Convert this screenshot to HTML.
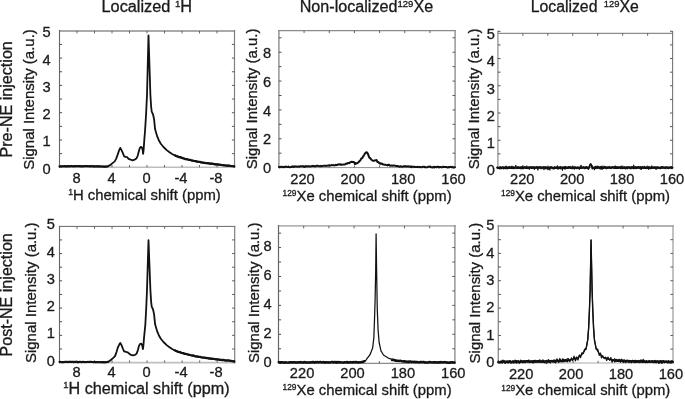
<!DOCTYPE html>
<html><head><meta charset="utf-8"><title>Spectra</title>
<style>html,body{margin:0;padding:0;background:#fff;}svg{display:block;will-change:transform;font-family:"Liberation Sans",sans-serif;}</style>
</head><body>
<svg width="685" height="399" viewBox="0 0 685 399"  fill="#1a1a1a" stroke="#1a1a1a" stroke-width="0">
<rect width="685" height="399" fill="#fff"/>
<line x1="58.95" y1="30.95" x2="235.10" y2="30.95" stroke="#aaaaaa" stroke-width="1.9"/>
<line x1="59.50" y1="167.30" x2="235.10" y2="167.30" stroke="#bdbdbd" stroke-width="1.4"/>
<line x1="234.50" y1="30.00" x2="234.50" y2="168.00" stroke="#808080" stroke-width="1.2"/>
<line x1="59.50" y1="30.00" x2="59.50" y2="168.00" stroke="#666" stroke-width="1.1"/>
<line x1="77.00" y1="167.30" x2="77.00" y2="165.10" stroke="#555" stroke-width="0.9"/>
<line x1="77.00" y1="30.95" x2="77.00" y2="33.45" stroke="#555" stroke-width="0.9"/>
<line x1="94.50" y1="167.30" x2="94.50" y2="165.10" stroke="#555" stroke-width="0.9"/>
<line x1="94.50" y1="30.95" x2="94.50" y2="33.45" stroke="#555" stroke-width="0.9"/>
<line x1="112.00" y1="167.30" x2="112.00" y2="165.10" stroke="#555" stroke-width="0.9"/>
<line x1="112.00" y1="30.95" x2="112.00" y2="33.45" stroke="#555" stroke-width="0.9"/>
<line x1="129.50" y1="167.30" x2="129.50" y2="165.10" stroke="#555" stroke-width="0.9"/>
<line x1="129.50" y1="30.95" x2="129.50" y2="33.45" stroke="#555" stroke-width="0.9"/>
<line x1="147.00" y1="167.30" x2="147.00" y2="165.10" stroke="#555" stroke-width="0.9"/>
<line x1="147.00" y1="30.95" x2="147.00" y2="33.45" stroke="#555" stroke-width="0.9"/>
<line x1="164.50" y1="167.30" x2="164.50" y2="165.10" stroke="#555" stroke-width="0.9"/>
<line x1="164.50" y1="30.95" x2="164.50" y2="33.45" stroke="#555" stroke-width="0.9"/>
<line x1="182.00" y1="167.30" x2="182.00" y2="165.10" stroke="#555" stroke-width="0.9"/>
<line x1="182.00" y1="30.95" x2="182.00" y2="33.45" stroke="#555" stroke-width="0.9"/>
<line x1="199.50" y1="167.30" x2="199.50" y2="165.10" stroke="#555" stroke-width="0.9"/>
<line x1="199.50" y1="30.95" x2="199.50" y2="33.45" stroke="#555" stroke-width="0.9"/>
<line x1="217.00" y1="167.30" x2="217.00" y2="165.10" stroke="#555" stroke-width="0.9"/>
<line x1="217.00" y1="30.95" x2="217.00" y2="33.45" stroke="#555" stroke-width="0.9"/>
<line x1="59.50" y1="153.65" x2="62.10" y2="153.65" stroke="#505050" stroke-width="1.0"/>
<line x1="234.50" y1="153.65" x2="231.90" y2="153.65" stroke="#5a5a5a" stroke-width="1.0"/>
<line x1="59.50" y1="140.00" x2="62.10" y2="140.00" stroke="#505050" stroke-width="1.0"/>
<line x1="234.50" y1="140.00" x2="231.90" y2="140.00" stroke="#5a5a5a" stroke-width="1.0"/>
<line x1="59.50" y1="126.35" x2="62.10" y2="126.35" stroke="#505050" stroke-width="1.0"/>
<line x1="234.50" y1="126.35" x2="231.90" y2="126.35" stroke="#5a5a5a" stroke-width="1.0"/>
<line x1="59.50" y1="112.70" x2="62.10" y2="112.70" stroke="#505050" stroke-width="1.0"/>
<line x1="234.50" y1="112.70" x2="231.90" y2="112.70" stroke="#5a5a5a" stroke-width="1.0"/>
<line x1="59.50" y1="99.05" x2="62.10" y2="99.05" stroke="#505050" stroke-width="1.0"/>
<line x1="234.50" y1="99.05" x2="231.90" y2="99.05" stroke="#5a5a5a" stroke-width="1.0"/>
<line x1="59.50" y1="85.40" x2="62.10" y2="85.40" stroke="#505050" stroke-width="1.0"/>
<line x1="234.50" y1="85.40" x2="231.90" y2="85.40" stroke="#5a5a5a" stroke-width="1.0"/>
<line x1="59.50" y1="71.75" x2="62.10" y2="71.75" stroke="#505050" stroke-width="1.0"/>
<line x1="234.50" y1="71.75" x2="231.90" y2="71.75" stroke="#5a5a5a" stroke-width="1.0"/>
<line x1="59.50" y1="58.10" x2="62.10" y2="58.10" stroke="#505050" stroke-width="1.0"/>
<line x1="234.50" y1="58.10" x2="231.90" y2="58.10" stroke="#5a5a5a" stroke-width="1.0"/>
<line x1="59.50" y1="44.45" x2="62.10" y2="44.45" stroke="#505050" stroke-width="1.0"/>
<line x1="234.50" y1="44.45" x2="231.90" y2="44.45" stroke="#5a5a5a" stroke-width="1.0"/>
<polyline points="59.60,166.30 80.00,166.20 100.00,166.40 105.00,166.60 108.00,166.30 110.50,164.90 112.50,163.10 114.50,161.60 116.00,159.10 117.50,155.10 119.00,150.60 120.30,147.90 121.50,150.10 122.90,153.10 124.10,156.30 125.60,156.90 127.10,157.10 128.60,158.90 130.60,159.70 132.60,160.30 134.60,159.70 136.30,158.60 137.60,156.10 138.80,151.60 139.80,148.10 140.80,146.90 141.80,147.30 142.60,149.60 143.10,153.90 143.60,150.10 144.30,140.00 145.10,130.00 146.10,113.80 147.00,95.00 147.60,71.20 148.12,50.38 148.50,35.50 148.97,50.38 149.64,71.20 150.40,95.00 151.10,106.30 151.70,111.50 152.30,113.00 153.00,114.20 153.60,117.00 154.10,119.40 155.00,128.50 155.60,131.00 157.30,136.70 158.80,140.20 160.80,143.70 163.50,147.00 166.70,150.10 169.50,152.30 172.50,154.20 175.30,155.60 178.40,156.80 184.20,158.60 190.00,160.00 195.90,161.30 201.70,162.40 207.60,163.20 213.40,164.00 219.30,164.70 225.10,165.30 230.90,165.80 234.30,166.40" fill="none" stroke="#111" stroke-width="1.8" stroke-linejoin="round" stroke-linecap="round"/>
<polyline points="175.30,155.47 176.33,156.02 177.37,156.33 178.40,156.85 179.37,157.16 180.33,157.18 181.30,157.46 182.27,158.17 183.23,158.18 184.20,158.47 185.17,159.08 186.13,159.05 187.10,159.47 188.07,159.52 189.03,159.84 190.00,159.83 190.98,160.28 191.97,160.62 192.95,160.66 193.93,160.99 194.92,161.17 195.90,161.08 196.87,161.61 197.83,161.71 198.80,161.75 199.77,161.80 200.73,162.40 201.70,162.39 202.68,162.64 203.67,162.86 204.65,162.91 205.63,163.14 206.62,163.01 207.60,163.35 208.57,163.31 209.53,163.68 210.50,163.79 211.47,163.53 212.43,163.68 213.40,163.86 214.38,164.35 215.37,164.20 216.35,164.41 217.33,164.37 218.32,164.59 219.30,164.64 220.27,164.73 221.23,164.94 222.20,165.04 223.17,165.30 224.13,165.29 225.10,165.51 226.07,165.56 227.03,165.71 228.00,165.64 228.97,165.46 229.93,165.90 230.90,166.03 232.03,166.20 233.17,166.23 234.30,166.40" fill="none" stroke="#111" stroke-width="2.2" stroke-linejoin="round" stroke-linecap="round"/>
<polyline points="59.60,166.39 60.62,166.18 61.64,166.42 62.66,166.31 63.68,166.19 64.70,166.10 65.72,166.41 66.74,166.46 67.76,166.10 68.78,166.38 69.80,166.21 70.82,166.11 71.84,166.16 72.86,166.34 73.88,166.38 74.90,166.04 75.92,166.27 76.94,166.03 77.96,166.30 78.98,166.14 80.00,166.35 81.00,166.40 82.00,166.22 83.00,166.43 84.00,166.16 85.00,166.08 86.00,166.30 87.00,166.08 88.00,166.16 89.00,166.25 90.00,166.34 91.00,166.17 92.00,166.14 93.00,166.48 94.00,166.27 95.00,166.53 96.00,166.52 97.00,166.32 98.00,166.36 99.00,166.40 100.00,166.46 101.00,166.48 102.00,166.50 103.00,166.57 104.00,166.74 105.00,166.60 106.00,166.47 107.00,166.49 108.00,166.30" fill="none" stroke="#111" stroke-width="2.1" stroke-linejoin="round" stroke-linecap="round"/>
<text stroke-width="0.3" x="34.50" y="169.80" font-size="14.67" text-anchor="start" transform="rotate(-90 34.50 169.80)" textLength="140.6" lengthAdjust="spacingAndGlyphs">Signal Intensity (a.u.)</text>
<text stroke-width="0.3" x="50.60" y="173.75" font-size="14.67" text-anchor="end" >0</text>
<text stroke-width="0.3" x="50.60" y="146.45" font-size="14.67" text-anchor="end" >1</text>
<text stroke-width="0.3" x="50.60" y="119.15" font-size="14.67" text-anchor="end" >2</text>
<text stroke-width="0.3" x="50.60" y="91.85" font-size="14.67" text-anchor="end" >3</text>
<text stroke-width="0.3" x="50.60" y="64.55" font-size="14.67" text-anchor="end" >4</text>
<text stroke-width="0.3" x="50.60" y="37.25" font-size="14.67" text-anchor="end" >5</text>
<text stroke-width="0.3" x="76.60" y="182.80" font-size="14.67" text-anchor="middle" >8</text>
<text stroke-width="0.3" x="111.60" y="182.80" font-size="14.67" text-anchor="middle" >4</text>
<text stroke-width="0.3" x="146.60" y="182.80" font-size="14.67" text-anchor="middle" >0</text>
<text stroke-width="0.3" x="180.90" y="182.80" font-size="14.67" text-anchor="middle" >-4</text>
<text stroke-width="0.3" x="215.90" y="182.80" font-size="14.67" text-anchor="middle" >-8</text>
<text stroke-width="0.3" x="68.20" y="199.80" font-size="14.67" text-anchor="start" textLength="152.6" lengthAdjust="spacingAndGlyphs"><tspan font-size="8.51" dy="-4.84">1</tspan><tspan dy="4.84">H chemical shift (ppm)</tspan></text>
<line x1="58.95" y1="226.40" x2="235.30" y2="226.40" stroke="#666" stroke-width="1.0"/>
<line x1="59.50" y1="362.60" x2="235.30" y2="362.60" stroke="#c0c0c0" stroke-width="1.6"/>
<line x1="234.70" y1="225.90" x2="234.70" y2="363.40" stroke="#808080" stroke-width="1.2"/>
<line x1="59.50" y1="225.90" x2="59.50" y2="363.40" stroke="#666" stroke-width="1.1"/>
<line x1="77.02" y1="362.60" x2="77.02" y2="360.40" stroke="#555" stroke-width="0.9"/>
<line x1="77.02" y1="226.40" x2="77.02" y2="228.90" stroke="#555" stroke-width="0.9"/>
<line x1="94.54" y1="362.60" x2="94.54" y2="360.40" stroke="#555" stroke-width="0.9"/>
<line x1="94.54" y1="226.40" x2="94.54" y2="228.90" stroke="#555" stroke-width="0.9"/>
<line x1="112.06" y1="362.60" x2="112.06" y2="360.40" stroke="#555" stroke-width="0.9"/>
<line x1="112.06" y1="226.40" x2="112.06" y2="228.90" stroke="#555" stroke-width="0.9"/>
<line x1="129.58" y1="362.60" x2="129.58" y2="360.40" stroke="#555" stroke-width="0.9"/>
<line x1="129.58" y1="226.40" x2="129.58" y2="228.90" stroke="#555" stroke-width="0.9"/>
<line x1="147.10" y1="362.60" x2="147.10" y2="360.40" stroke="#555" stroke-width="0.9"/>
<line x1="147.10" y1="226.40" x2="147.10" y2="228.90" stroke="#555" stroke-width="0.9"/>
<line x1="164.62" y1="362.60" x2="164.62" y2="360.40" stroke="#555" stroke-width="0.9"/>
<line x1="164.62" y1="226.40" x2="164.62" y2="228.90" stroke="#555" stroke-width="0.9"/>
<line x1="182.14" y1="362.60" x2="182.14" y2="360.40" stroke="#555" stroke-width="0.9"/>
<line x1="182.14" y1="226.40" x2="182.14" y2="228.90" stroke="#555" stroke-width="0.9"/>
<line x1="199.66" y1="362.60" x2="199.66" y2="360.40" stroke="#555" stroke-width="0.9"/>
<line x1="199.66" y1="226.40" x2="199.66" y2="228.90" stroke="#555" stroke-width="0.9"/>
<line x1="217.18" y1="362.60" x2="217.18" y2="360.40" stroke="#555" stroke-width="0.9"/>
<line x1="217.18" y1="226.40" x2="217.18" y2="228.90" stroke="#555" stroke-width="0.9"/>
<line x1="59.50" y1="348.97" x2="62.10" y2="348.97" stroke="#505050" stroke-width="1.0"/>
<line x1="234.70" y1="348.97" x2="232.10" y2="348.97" stroke="#5a5a5a" stroke-width="1.0"/>
<line x1="59.50" y1="335.34" x2="62.10" y2="335.34" stroke="#505050" stroke-width="1.0"/>
<line x1="234.70" y1="335.34" x2="232.10" y2="335.34" stroke="#5a5a5a" stroke-width="1.0"/>
<line x1="59.50" y1="321.71" x2="62.10" y2="321.71" stroke="#505050" stroke-width="1.0"/>
<line x1="234.70" y1="321.71" x2="232.10" y2="321.71" stroke="#5a5a5a" stroke-width="1.0"/>
<line x1="59.50" y1="308.08" x2="62.10" y2="308.08" stroke="#505050" stroke-width="1.0"/>
<line x1="234.70" y1="308.08" x2="232.10" y2="308.08" stroke="#5a5a5a" stroke-width="1.0"/>
<line x1="59.50" y1="294.45" x2="62.10" y2="294.45" stroke="#505050" stroke-width="1.0"/>
<line x1="234.70" y1="294.45" x2="232.10" y2="294.45" stroke="#5a5a5a" stroke-width="1.0"/>
<line x1="59.50" y1="280.82" x2="62.10" y2="280.82" stroke="#505050" stroke-width="1.0"/>
<line x1="234.70" y1="280.82" x2="232.10" y2="280.82" stroke="#5a5a5a" stroke-width="1.0"/>
<line x1="59.50" y1="267.19" x2="62.10" y2="267.19" stroke="#505050" stroke-width="1.0"/>
<line x1="234.70" y1="267.19" x2="232.10" y2="267.19" stroke="#5a5a5a" stroke-width="1.0"/>
<line x1="59.50" y1="253.56" x2="62.10" y2="253.56" stroke="#505050" stroke-width="1.0"/>
<line x1="234.70" y1="253.56" x2="232.10" y2="253.56" stroke="#5a5a5a" stroke-width="1.0"/>
<line x1="59.50" y1="239.93" x2="62.10" y2="239.93" stroke="#505050" stroke-width="1.0"/>
<line x1="234.70" y1="239.93" x2="232.10" y2="239.93" stroke="#5a5a5a" stroke-width="1.0"/>
<polyline points="59.60,362.00 80.00,361.90 100.00,362.10 105.00,362.30 108.00,361.90 110.50,360.30 113.00,358.10 115.00,356.10 116.50,352.10 118.00,347.10 119.50,344.10 120.30,342.90 121.50,345.10 122.90,348.60 124.10,351.30 126.10,351.90 127.60,352.30 129.10,353.60 130.90,354.90 133.10,355.30 135.10,354.90 136.60,353.60 137.90,350.10 139.10,345.60 140.10,343.90 141.30,343.70 142.30,345.60 142.90,349.10 143.40,345.60 144.10,337.00 144.90,329.00 145.30,325.00 146.20,308.80 147.00,290.00 147.60,270.08 148.12,252.65 148.50,240.20 148.97,252.65 149.64,270.08 150.40,290.00 151.10,301.30 151.70,306.50 152.30,308.00 153.00,309.20 153.60,312.00 154.10,314.40 155.00,323.50 155.60,326.00 157.30,331.70 158.80,335.20 160.80,338.70 163.50,342.00 166.70,345.10 169.50,347.30 172.50,349.20 175.30,350.60 178.40,351.80 184.20,353.60 190.00,355.00 195.90,356.30 201.70,357.40 207.60,358.20 213.40,359.00 219.30,359.70 225.10,360.30 230.90,360.80 234.30,361.40" fill="none" stroke="#111" stroke-width="1.8" stroke-linejoin="round" stroke-linecap="round"/>
<polyline points="175.30,350.47 176.33,350.90 177.37,351.64 178.40,351.81 179.37,352.12 180.33,352.16 181.30,352.66 182.27,353.04 183.23,353.06 184.20,353.66 185.17,353.90 186.13,353.85 187.10,354.36 188.07,354.52 189.03,354.86 190.00,354.93 190.98,355.32 191.97,355.55 192.95,355.41 193.93,355.65 194.92,356.17 195.90,356.53 196.87,356.36 197.83,356.64 198.80,356.90 199.77,356.94 200.73,357.15 201.70,357.31 202.68,357.47 203.67,357.71 204.65,357.70 205.63,357.87 206.62,358.20 207.60,357.96 208.57,358.37 209.53,358.58 210.50,358.51 211.47,358.59 212.43,359.02 213.40,358.87 214.38,358.96 215.37,359.20 216.35,359.45 217.33,359.27 218.32,359.49 219.30,359.62 220.27,359.97 221.23,359.87 222.20,360.18 223.17,359.93 224.13,360.12 225.10,360.38 226.07,360.58 227.03,360.44 228.00,360.41 228.97,360.44 229.93,360.73 230.90,360.65 232.03,361.15 233.17,361.37 234.30,361.40" fill="none" stroke="#111" stroke-width="2.2" stroke-linejoin="round" stroke-linecap="round"/>
<polyline points="59.60,361.87 60.62,361.91 61.64,362.11 62.66,362.04 63.68,362.10 64.70,361.91 65.72,361.82 66.74,361.88 67.76,362.08 68.78,361.86 69.80,361.89 70.82,361.91 71.84,361.91 72.86,361.90 73.88,362.10 74.90,361.79 75.92,361.72 76.94,362.09 77.96,362.06 78.98,362.10 80.00,361.87 81.00,362.09 82.00,362.09 83.00,361.82 84.00,362.04 85.00,362.08 86.00,362.03 87.00,361.98 88.00,361.90 89.00,361.93 90.00,361.89 91.00,361.84 92.00,362.06 93.00,361.94 94.00,362.16 95.00,361.87 96.00,362.22 97.00,362.15 98.00,362.25 99.00,362.25 100.00,362.26 101.00,362.17 102.00,361.99 103.00,362.32 104.00,362.13 105.00,362.22 106.00,362.23 107.00,362.04 108.00,361.90" fill="none" stroke="#111" stroke-width="2.1" stroke-linejoin="round" stroke-linecap="round"/>
<text stroke-width="0.3" x="35.60" y="363.00" font-size="14.67" text-anchor="start" transform="rotate(-90 35.60 363.00)" textLength="140.6" lengthAdjust="spacingAndGlyphs">Signal Intensity (a.u.)</text>
<text stroke-width="0.3" x="54.80" y="365.75" font-size="14.67" text-anchor="end" >0</text>
<text stroke-width="0.3" x="54.80" y="338.49" font-size="14.67" text-anchor="end" >1</text>
<text stroke-width="0.3" x="54.80" y="311.23" font-size="14.67" text-anchor="end" >2</text>
<text stroke-width="0.3" x="54.80" y="283.97" font-size="14.67" text-anchor="end" >3</text>
<text stroke-width="0.3" x="54.80" y="256.71" font-size="14.67" text-anchor="end" >4</text>
<text stroke-width="0.3" x="54.80" y="229.45" font-size="14.67" text-anchor="end" >5</text>
<text stroke-width="0.3" x="76.62" y="377.20" font-size="14.67" text-anchor="middle" >8</text>
<text stroke-width="0.3" x="111.66" y="377.20" font-size="14.67" text-anchor="middle" >4</text>
<text stroke-width="0.3" x="146.70" y="377.20" font-size="14.67" text-anchor="middle" >0</text>
<text stroke-width="0.3" x="181.04" y="377.20" font-size="14.67" text-anchor="middle" >-4</text>
<text stroke-width="0.3" x="216.08" y="377.20" font-size="14.67" text-anchor="middle" >-8</text>
<text stroke-width="0.3" x="63.30" y="393.70" font-size="16" text-anchor="start" textLength="166.3" lengthAdjust="spacingAndGlyphs"><tspan font-size="9.28" dy="-5.28">1</tspan><tspan dy="5.28">H chemical shift (ppm)</tspan></text>
<line x1="278.20" y1="30.60" x2="455.80" y2="30.60" stroke="#8a8a8a" stroke-width="1.4"/>
<line x1="278.90" y1="167.60" x2="455.80" y2="167.60" stroke="#909090" stroke-width="1.0"/>
<line x1="455.10" y1="29.90" x2="455.10" y2="168.10" stroke="#909090" stroke-width="1.4"/>
<line x1="278.90" y1="29.90" x2="278.90" y2="168.10" stroke="#8c8c8c" stroke-width="1.4"/>
<line x1="304.07" y1="167.60" x2="304.07" y2="165.40" stroke="#555" stroke-width="0.9"/>
<line x1="304.07" y1="30.60" x2="304.07" y2="33.10" stroke="#555" stroke-width="0.9"/>
<line x1="329.24" y1="167.60" x2="329.24" y2="165.40" stroke="#555" stroke-width="0.9"/>
<line x1="329.24" y1="30.60" x2="329.24" y2="33.10" stroke="#555" stroke-width="0.9"/>
<line x1="354.41" y1="167.60" x2="354.41" y2="165.40" stroke="#555" stroke-width="0.9"/>
<line x1="354.41" y1="30.60" x2="354.41" y2="33.10" stroke="#555" stroke-width="0.9"/>
<line x1="379.59" y1="167.60" x2="379.59" y2="165.40" stroke="#555" stroke-width="0.9"/>
<line x1="379.59" y1="30.60" x2="379.59" y2="33.10" stroke="#555" stroke-width="0.9"/>
<line x1="404.76" y1="167.60" x2="404.76" y2="165.40" stroke="#555" stroke-width="0.9"/>
<line x1="404.76" y1="30.60" x2="404.76" y2="33.10" stroke="#555" stroke-width="0.9"/>
<line x1="429.93" y1="167.60" x2="429.93" y2="165.40" stroke="#555" stroke-width="0.9"/>
<line x1="429.93" y1="30.60" x2="429.93" y2="33.10" stroke="#555" stroke-width="0.9"/>
<line x1="278.90" y1="153.18" x2="281.50" y2="153.18" stroke="#505050" stroke-width="1.0"/>
<line x1="455.10" y1="153.18" x2="452.50" y2="153.18" stroke="#5a5a5a" stroke-width="1.0"/>
<line x1="278.90" y1="138.76" x2="281.50" y2="138.76" stroke="#505050" stroke-width="1.0"/>
<line x1="455.10" y1="138.76" x2="452.50" y2="138.76" stroke="#5a5a5a" stroke-width="1.0"/>
<line x1="278.90" y1="124.34" x2="281.50" y2="124.34" stroke="#505050" stroke-width="1.0"/>
<line x1="455.10" y1="124.34" x2="452.50" y2="124.34" stroke="#5a5a5a" stroke-width="1.0"/>
<line x1="278.90" y1="109.92" x2="281.50" y2="109.92" stroke="#505050" stroke-width="1.0"/>
<line x1="455.10" y1="109.92" x2="452.50" y2="109.92" stroke="#5a5a5a" stroke-width="1.0"/>
<line x1="278.90" y1="95.49" x2="281.50" y2="95.49" stroke="#505050" stroke-width="1.0"/>
<line x1="455.10" y1="95.49" x2="452.50" y2="95.49" stroke="#5a5a5a" stroke-width="1.0"/>
<line x1="278.90" y1="81.07" x2="281.50" y2="81.07" stroke="#505050" stroke-width="1.0"/>
<line x1="455.10" y1="81.07" x2="452.50" y2="81.07" stroke="#5a5a5a" stroke-width="1.0"/>
<line x1="278.90" y1="66.65" x2="281.50" y2="66.65" stroke="#505050" stroke-width="1.0"/>
<line x1="455.10" y1="66.65" x2="452.50" y2="66.65" stroke="#5a5a5a" stroke-width="1.0"/>
<line x1="278.90" y1="52.23" x2="281.50" y2="52.23" stroke="#505050" stroke-width="1.0"/>
<line x1="455.10" y1="52.23" x2="452.50" y2="52.23" stroke="#5a5a5a" stroke-width="1.0"/>
<line x1="278.90" y1="37.81" x2="281.50" y2="37.81" stroke="#505050" stroke-width="1.0"/>
<line x1="455.10" y1="37.81" x2="452.50" y2="37.81" stroke="#5a5a5a" stroke-width="1.0"/>
<text stroke-width="0.3" x="257.50" y="169.20" font-size="14.67" text-anchor="start" transform="rotate(-90 257.50 169.20)" textLength="140.6" lengthAdjust="spacingAndGlyphs">Signal Intensity (a.u.)</text>
<text stroke-width="0.3" x="271.20" y="173.25" font-size="14.67" text-anchor="end" >0</text>
<text stroke-width="0.3" x="271.20" y="144.41" font-size="14.67" text-anchor="end" >2</text>
<text stroke-width="0.3" x="271.20" y="115.57" font-size="14.67" text-anchor="end" >4</text>
<text stroke-width="0.3" x="271.20" y="86.72" font-size="14.67" text-anchor="end" >6</text>
<text stroke-width="0.3" x="271.20" y="57.88" font-size="14.67" text-anchor="end" >8</text>
<text stroke-width="0.3" x="302.47" y="184.20" font-size="14.67" text-anchor="middle" >220</text>
<text stroke-width="0.3" x="352.81" y="184.20" font-size="14.67" text-anchor="middle" >200</text>
<text stroke-width="0.3" x="403.16" y="184.20" font-size="14.67" text-anchor="middle" >180</text>
<text stroke-width="0.3" x="453.50" y="184.20" font-size="14.67" text-anchor="middle" >160</text>
<text stroke-width="0.3" x="282.60" y="200.60" font-size="14.67" text-anchor="start" textLength="169.0" lengthAdjust="spacingAndGlyphs"><tspan font-size="8.22" dy="-4.69">129</tspan><tspan dy="4.69">Xe chemical shift (ppm)</tspan></text>
<polyline points="278.90,166.92 279.69,167.38 280.48,167.07 281.27,166.81 282.06,166.71 282.85,167.25 283.64,166.89 284.43,167.14 285.22,166.74 286.02,166.59 286.81,166.87 287.60,167.11 288.39,166.52 289.18,167.06 289.97,167.16 290.76,167.04 291.55,167.04 292.34,166.29 293.13,166.83 293.92,167.03 294.71,166.28 295.50,166.47 296.29,166.45 297.08,166.67 297.88,166.56 298.67,166.58 299.46,166.84 300.25,166.13 301.04,166.16 301.83,166.21 302.62,166.19 303.41,166.13 304.20,166.93 304.99,166.79 305.78,166.08 306.57,166.43 307.36,166.23 308.15,166.21 308.94,166.22 309.73,166.46 310.52,166.38 311.31,166.15 312.10,165.97 312.89,166.07 313.68,165.86 314.47,166.22 315.26,166.34 316.05,166.02 316.84,165.72 317.63,165.79 318.42,165.94 319.21,166.12 320.00,166.25 320.83,165.85 321.67,166.19 322.50,165.99 323.33,165.77 324.17,165.68 325.00,165.75 325.83,165.89 326.67,165.60 327.50,165.80 328.33,165.55 329.17,165.31 330.00,165.53 330.82,165.59 331.64,164.93 332.46,165.16 333.28,165.07 334.10,165.39 334.92,165.35 335.74,164.76 336.56,165.14 337.38,164.95 338.20,164.39 338.99,164.52 339.78,164.17 340.57,164.75 341.36,164.57 342.14,164.73 342.93,164.60 343.72,164.44 344.51,164.45 345.30,164.26 346.12,163.60 346.94,163.80 347.76,163.03 348.58,162.92 349.40,163.25 350.17,162.26 350.95,161.98 351.73,161.66 352.50,162.04 353.25,161.91 354.00,162.27 355.00,164.01 355.70,163.13 356.40,163.54 357.10,163.16 357.93,162.60 358.77,162.01 359.60,160.97 360.47,160.17 361.33,158.48 362.20,158.14 363.20,156.36 364.20,154.99 364.90,153.45 365.60,153.02 366.30,152.19 367.05,152.41 367.80,153.64 368.55,155.66 369.30,157.70 370.00,158.00 370.70,158.78 371.40,159.67 372.23,160.34 373.07,160.79 373.90,160.80 374.77,160.55 375.63,160.34 376.50,160.07 377.50,161.93 378.22,161.96 378.94,162.68 379.66,163.45 380.38,163.28 381.10,163.92 381.92,163.61 382.74,164.31 383.56,164.59 384.38,164.74 385.20,164.82 385.96,164.87 386.73,165.10 387.49,165.42 388.25,164.83 389.01,164.87 389.77,165.55 390.54,165.79 391.30,165.52 392.09,165.53 392.88,165.86 393.67,165.46 394.46,165.62 395.25,165.64 396.05,166.07 396.84,165.91 397.63,165.91 398.42,166.41 399.21,166.73 400.00,166.22 400.80,166.61 401.60,166.37 402.40,166.78 403.20,166.56 404.00,166.30 404.80,166.28 405.60,166.12 406.40,166.56 407.20,166.49 408.00,166.32 408.80,166.51 409.60,166.50 410.40,166.93 411.20,166.38 412.00,167.17 412.80,166.73 413.60,166.86 414.40,166.76 415.20,167.11 416.00,167.12 416.80,166.91 417.60,166.86 418.40,167.10 419.20,167.23 419.99,166.82 420.79,167.13 421.58,167.34 422.38,166.90 423.17,166.70 423.97,166.71 424.77,167.15 425.56,167.12 426.36,167.38 427.15,167.29 427.95,166.75 428.74,166.71 429.54,166.77 430.33,166.72 431.13,167.19 431.93,167.33 432.72,167.38 433.52,166.80 434.31,167.36 435.11,166.87 435.90,166.97 436.70,167.26 437.50,166.68 438.29,166.70 439.09,167.37 439.88,166.89 440.68,166.95 441.47,167.16 442.27,167.25 443.07,166.66 443.86,166.96 444.66,167.06 445.45,167.11 446.25,166.87 447.04,167.21 447.84,167.55 448.63,167.05 449.43,167.19 450.23,166.82 451.02,166.96 451.82,167.32 452.61,166.83 453.41,167.54 454.20,167.56 455.00,167.20" fill="none" stroke="#111" stroke-width="2.0" stroke-linejoin="round" stroke-linecap="round"/>
<line x1="277.90" y1="225.90" x2="455.60" y2="225.90" stroke="#b4b4b4" stroke-width="1.7"/>
<line x1="278.50" y1="363.30" x2="455.60" y2="363.30" stroke="#707070" stroke-width="1.0"/>
<line x1="454.90" y1="225.05" x2="454.90" y2="363.80" stroke="#8a9098" stroke-width="1.4"/>
<line x1="278.50" y1="225.05" x2="278.50" y2="363.80" stroke="#666" stroke-width="1.2"/>
<line x1="303.70" y1="363.30" x2="303.70" y2="361.10" stroke="#555" stroke-width="0.9"/>
<line x1="303.70" y1="225.90" x2="303.70" y2="228.40" stroke="#555" stroke-width="0.9"/>
<line x1="328.90" y1="363.30" x2="328.90" y2="361.10" stroke="#555" stroke-width="0.9"/>
<line x1="328.90" y1="225.90" x2="328.90" y2="228.40" stroke="#555" stroke-width="0.9"/>
<line x1="354.10" y1="363.30" x2="354.10" y2="361.10" stroke="#555" stroke-width="0.9"/>
<line x1="354.10" y1="225.90" x2="354.10" y2="228.40" stroke="#555" stroke-width="0.9"/>
<line x1="379.30" y1="363.30" x2="379.30" y2="361.10" stroke="#555" stroke-width="0.9"/>
<line x1="379.30" y1="225.90" x2="379.30" y2="228.40" stroke="#555" stroke-width="0.9"/>
<line x1="404.50" y1="363.30" x2="404.50" y2="361.10" stroke="#555" stroke-width="0.9"/>
<line x1="404.50" y1="225.90" x2="404.50" y2="228.40" stroke="#555" stroke-width="0.9"/>
<line x1="429.70" y1="363.30" x2="429.70" y2="361.10" stroke="#555" stroke-width="0.9"/>
<line x1="429.70" y1="225.90" x2="429.70" y2="228.40" stroke="#555" stroke-width="0.9"/>
<line x1="278.50" y1="348.75" x2="281.10" y2="348.75" stroke="#505050" stroke-width="1.0"/>
<line x1="454.90" y1="348.75" x2="452.30" y2="348.75" stroke="#5a5a5a" stroke-width="1.0"/>
<line x1="278.50" y1="334.29" x2="281.10" y2="334.29" stroke="#505050" stroke-width="1.0"/>
<line x1="454.90" y1="334.29" x2="452.30" y2="334.29" stroke="#5a5a5a" stroke-width="1.0"/>
<line x1="278.50" y1="319.84" x2="281.10" y2="319.84" stroke="#505050" stroke-width="1.0"/>
<line x1="454.90" y1="319.84" x2="452.30" y2="319.84" stroke="#5a5a5a" stroke-width="1.0"/>
<line x1="278.50" y1="305.39" x2="281.10" y2="305.39" stroke="#505050" stroke-width="1.0"/>
<line x1="454.90" y1="305.39" x2="452.30" y2="305.39" stroke="#5a5a5a" stroke-width="1.0"/>
<line x1="278.50" y1="290.94" x2="281.10" y2="290.94" stroke="#505050" stroke-width="1.0"/>
<line x1="454.90" y1="290.94" x2="452.30" y2="290.94" stroke="#5a5a5a" stroke-width="1.0"/>
<line x1="278.50" y1="276.48" x2="281.10" y2="276.48" stroke="#505050" stroke-width="1.0"/>
<line x1="454.90" y1="276.48" x2="452.30" y2="276.48" stroke="#5a5a5a" stroke-width="1.0"/>
<line x1="278.50" y1="262.03" x2="281.10" y2="262.03" stroke="#505050" stroke-width="1.0"/>
<line x1="454.90" y1="262.03" x2="452.30" y2="262.03" stroke="#5a5a5a" stroke-width="1.0"/>
<line x1="278.50" y1="247.58" x2="281.10" y2="247.58" stroke="#505050" stroke-width="1.0"/>
<line x1="454.90" y1="247.58" x2="452.30" y2="247.58" stroke="#5a5a5a" stroke-width="1.0"/>
<line x1="278.50" y1="233.13" x2="281.10" y2="233.13" stroke="#505050" stroke-width="1.0"/>
<line x1="454.90" y1="233.13" x2="452.30" y2="233.13" stroke="#5a5a5a" stroke-width="1.0"/>
<text stroke-width="0.3" x="259.10" y="363.00" font-size="14.67" text-anchor="start" transform="rotate(-90 259.10 363.00)" textLength="140.6" lengthAdjust="spacingAndGlyphs">Signal Intensity (a.u.)</text>
<text stroke-width="0.3" x="271.60" y="366.85" font-size="14.67" text-anchor="end" >0</text>
<text stroke-width="0.3" x="271.60" y="337.94" font-size="14.67" text-anchor="end" >2</text>
<text stroke-width="0.3" x="271.60" y="309.04" font-size="14.67" text-anchor="end" >4</text>
<text stroke-width="0.3" x="271.60" y="280.13" font-size="14.67" text-anchor="end" >6</text>
<text stroke-width="0.3" x="271.60" y="251.23" font-size="14.67" text-anchor="end" >8</text>
<text stroke-width="0.3" x="302.10" y="378.00" font-size="14.67" text-anchor="middle" >220</text>
<text stroke-width="0.3" x="352.50" y="378.00" font-size="14.67" text-anchor="middle" >200</text>
<text stroke-width="0.3" x="402.90" y="378.00" font-size="14.67" text-anchor="middle" >180</text>
<text stroke-width="0.3" x="453.30" y="378.00" font-size="14.67" text-anchor="middle" >160</text>
<text stroke-width="0.3" x="282.60" y="394.80" font-size="14.67" text-anchor="start" textLength="169.0" lengthAdjust="spacingAndGlyphs"><tspan font-size="8.22" dy="-4.69">129</tspan><tspan dy="4.69">Xe chemical shift (ppm)</tspan></text>
<polyline points="278.70,362.20 279.50,362.62 280.29,362.33 281.09,362.53 281.88,362.52 282.68,362.29 283.48,362.48 284.27,362.47 285.07,362.54 285.86,362.27 286.66,362.51 287.46,362.62 288.25,362.47 289.05,362.40 289.85,362.19 290.64,362.38 291.44,362.31 292.23,362.49 293.03,362.47 293.83,362.41 294.62,362.22 295.42,362.45 296.21,362.44 297.01,362.21 297.81,362.56 298.60,362.45 299.40,362.18 300.19,362.58 300.99,362.18 301.79,362.28 302.58,362.47 303.38,362.41 304.18,362.39 304.97,362.43 305.77,362.33 306.56,362.26 307.36,362.19 308.16,362.14 308.95,362.46 309.75,362.48 310.54,362.37 311.34,362.47 312.14,362.28 312.93,362.23 313.73,362.28 314.52,362.53 315.32,362.11 316.12,362.34 316.91,362.21 317.71,362.47 318.51,362.26 319.30,362.25 320.10,362.28 320.89,362.35 321.69,362.47 322.49,362.26 323.28,362.50 324.08,362.13 324.87,362.21 325.67,362.12 326.47,362.13 327.26,362.46 328.06,362.43 328.85,362.16 329.65,362.16 330.45,362.27 331.24,362.44 332.04,362.47 332.84,362.44 333.63,362.36 334.43,362.13 335.22,362.26 336.02,362.15 336.82,362.32 337.61,362.34 338.41,362.15 339.20,362.18 340.00,362.44 340.81,362.07 341.62,362.45 342.42,362.50 343.23,362.52 344.04,362.24 344.85,362.33 345.65,362.34 346.46,362.37 347.27,362.54 348.08,362.39 348.88,362.20 349.69,362.48 350.50,362.29 351.31,362.35 352.12,362.41 352.92,362.05 353.73,362.44 354.54,362.38 355.35,362.30 356.15,362.31 356.96,362.28 357.77,362.15 358.58,362.31 359.38,362.07 360.19,362.30 361.00,362.37 361.75,361.99 362.50,361.77 363.25,361.68 364.00,361.36 364.75,360.70 365.50,360.75 366.36,359.56 367.22,358.18 368.08,357.23 368.94,356.07 369.80,354.89 370.50,353.37 371.20,351.81 371.90,349.76 372.60,348.29 373.80,338.20 374.50,319.92 375.10,300.18 375.70,270.05 376.10,233.81 376.60,270.11 377.30,310.12 378.10,330.02 379.10,342.25 380.10,346.82 381.10,351.28 381.85,352.22 382.60,353.53 383.35,354.54 384.10,355.50 384.93,355.94 385.77,356.42 386.60,356.95 387.43,357.40 388.27,358.03 389.10,358.60 389.92,358.71 390.74,358.84 391.55,359.15 392.37,359.17 393.19,359.44 394.01,359.77 394.83,359.79 395.65,359.87 396.46,360.42 397.28,360.52 398.10,360.53 398.93,360.63 399.77,360.80 400.60,360.92 401.43,360.83 402.27,360.81 403.10,361.00 403.93,361.38 404.77,361.16 405.60,361.40 406.43,361.36 407.27,361.46 408.10,361.54 408.89,361.69 409.69,361.60 410.48,361.56 411.27,361.64 412.07,361.70 412.86,361.90 413.65,361.71 414.45,361.73 415.24,361.97 416.03,361.99 416.83,362.17 417.62,361.88 418.41,362.08 419.21,362.11 420.00,361.96 420.80,362.44 421.61,362.07 422.41,362.02 423.22,362.22 424.02,362.07 424.83,362.30 425.63,362.17 426.44,362.07 427.24,362.04 428.05,362.38 428.85,362.16 429.66,362.43 430.46,362.27 431.27,362.51 432.07,362.20 432.87,362.19 433.68,362.20 434.48,362.48 435.29,362.40 436.09,362.26 436.90,362.14 437.70,362.44 438.51,362.60 439.31,362.41 440.12,362.13 440.92,362.15 441.73,362.18 442.53,362.23 443.33,362.17 444.14,362.19 444.94,362.49 445.75,362.62 446.55,362.28 447.36,362.67 448.16,362.43 448.97,362.60 449.77,362.67 450.58,362.69 451.38,362.24 452.19,362.38 452.99,362.54 453.80,362.72 454.60,362.50" fill="none" stroke="#111" stroke-width="1.25" stroke-linejoin="round" stroke-linecap="round"/>
<polyline points="278.70,362.07 279.50,362.23 280.29,362.68 281.09,362.09 281.88,362.31 282.68,362.26 283.48,362.54 284.27,362.73 285.07,362.13 285.86,362.58 286.66,362.57 287.46,362.65 288.25,362.43 289.05,362.72 289.85,362.27 290.64,362.31 291.44,362.16 292.23,362.60 293.03,362.36 293.83,362.19 294.62,362.11 295.42,362.55 296.21,362.46 297.01,362.54 297.81,362.28 298.60,362.36 299.40,362.09 300.19,362.53 300.99,361.98 301.79,362.34 302.58,362.57 303.38,362.50 304.18,362.04 304.97,362.15 305.77,362.63 306.56,362.47 307.36,362.66 308.16,362.65 308.95,362.31 309.75,362.67 310.54,362.53 311.34,362.21 312.14,362.24 312.93,362.00 313.73,362.26 314.52,362.71 315.32,362.02 316.12,362.39 316.91,362.03 317.71,362.00 318.51,362.45 319.30,362.13 320.10,361.97 320.89,362.05 321.69,362.45 322.49,362.40 323.28,361.94 324.08,362.11 324.87,362.70 325.67,362.10 326.47,362.37 327.26,362.26 328.06,362.54 328.85,362.40 329.65,362.55 330.45,362.34 331.24,362.06 332.04,362.06 332.84,361.97 333.63,362.57 334.43,362.00 335.22,361.93 336.02,362.68 336.82,362.06 337.61,362.62 338.41,361.97 339.20,362.27 340.00,362.08 340.81,362.56 341.62,362.39 342.42,362.41 343.23,362.51 344.04,362.60 344.85,362.18 345.65,362.38 346.46,362.26 347.27,361.99 348.08,362.57 348.88,362.38 349.69,362.55 350.50,362.06 351.31,362.33 352.12,362.27 352.92,362.48 353.73,361.96 354.54,362.18 355.35,362.29 356.15,361.96 356.96,362.34 357.77,362.49 358.58,362.24 359.38,362.42 360.19,362.38 361.00,362.07 361.88,361.91 362.75,362.15 363.62,361.34 364.50,361.20" fill="none" stroke="#111" stroke-width="2.4" stroke-linejoin="round" stroke-linecap="round"/>
<polyline points="392.00,360.04 392.76,359.83 393.52,360.00 394.29,360.02 395.05,360.69 395.81,360.59 396.58,360.77 397.34,360.93 398.10,360.69 398.93,361.04 399.77,360.81 400.60,360.81 401.43,361.33 402.27,361.38 403.10,361.51 403.93,361.23 404.77,361.55 405.60,361.35 406.43,361.91 407.27,361.94 408.10,361.53 408.89,362.08 409.69,361.51 410.48,361.48 411.27,362.01 412.07,361.70 412.86,361.92 413.65,362.04 414.45,361.60 415.24,362.20 416.03,361.85 416.83,362.01 417.62,361.98 418.41,362.33 419.21,362.36 420.00,362.03 420.80,361.89 421.61,362.05 422.41,362.15 423.22,361.89 424.02,361.96 424.83,362.45 425.63,362.41 426.44,362.64 427.24,362.65 428.05,362.57 428.85,362.17 429.66,362.01 430.46,362.14 431.27,362.27 432.07,362.33 432.87,362.35 433.68,362.21 434.48,362.61 435.29,362.16 436.09,362.31 436.90,362.66 437.70,362.60 438.51,362.20 439.31,362.16 440.12,362.62 440.92,361.99 441.73,362.09 442.53,362.42 443.33,362.43 444.14,362.14 444.94,362.06 445.75,362.19 446.55,362.65 447.36,362.41 448.16,362.83 448.97,362.68 449.77,362.84 450.58,362.09 451.38,362.22 452.19,362.09 452.99,362.43 453.80,362.36 454.60,362.50" fill="none" stroke="#111" stroke-width="2.4" stroke-linejoin="round" stroke-linecap="round"/>
<line x1="497.20" y1="33.30" x2="673.15" y2="33.30" stroke="#707070" stroke-width="1.0"/>
<line x1="497.90" y1="167.60" x2="673.15" y2="167.60" stroke="#909090" stroke-width="1.0"/>
<line x1="672.60" y1="31.00" x2="672.60" y2="168.10" stroke="#777" stroke-width="1.1"/>
<line x1="497.90" y1="30.80" x2="497.90" y2="168.10" stroke="#9a9a9a" stroke-width="1.4"/>
<line x1="522.86" y1="167.60" x2="522.86" y2="165.40" stroke="#555" stroke-width="0.9"/>
<line x1="522.86" y1="33.30" x2="522.86" y2="35.80" stroke="#555" stroke-width="0.9"/>
<line x1="547.81" y1="167.60" x2="547.81" y2="165.40" stroke="#555" stroke-width="0.9"/>
<line x1="547.81" y1="33.30" x2="547.81" y2="35.80" stroke="#555" stroke-width="0.9"/>
<line x1="572.77" y1="167.60" x2="572.77" y2="165.40" stroke="#555" stroke-width="0.9"/>
<line x1="572.77" y1="33.30" x2="572.77" y2="35.80" stroke="#555" stroke-width="0.9"/>
<line x1="597.73" y1="167.60" x2="597.73" y2="165.40" stroke="#555" stroke-width="0.9"/>
<line x1="597.73" y1="33.30" x2="597.73" y2="35.80" stroke="#555" stroke-width="0.9"/>
<line x1="622.69" y1="167.60" x2="622.69" y2="165.40" stroke="#555" stroke-width="0.9"/>
<line x1="622.69" y1="33.30" x2="622.69" y2="35.80" stroke="#555" stroke-width="0.9"/>
<line x1="647.64" y1="167.60" x2="647.64" y2="165.40" stroke="#555" stroke-width="0.9"/>
<line x1="647.64" y1="33.30" x2="647.64" y2="35.80" stroke="#555" stroke-width="0.9"/>
<line x1="497.90" y1="153.88" x2="500.50" y2="153.88" stroke="#505050" stroke-width="1.0"/>
<line x1="672.60" y1="153.88" x2="670.00" y2="153.88" stroke="#5a5a5a" stroke-width="1.0"/>
<line x1="497.90" y1="140.26" x2="500.50" y2="140.26" stroke="#505050" stroke-width="1.0"/>
<line x1="672.60" y1="140.26" x2="670.00" y2="140.26" stroke="#5a5a5a" stroke-width="1.0"/>
<line x1="497.90" y1="126.64" x2="500.50" y2="126.64" stroke="#505050" stroke-width="1.0"/>
<line x1="672.60" y1="126.64" x2="670.00" y2="126.64" stroke="#5a5a5a" stroke-width="1.0"/>
<line x1="497.90" y1="113.02" x2="500.50" y2="113.02" stroke="#505050" stroke-width="1.0"/>
<line x1="672.60" y1="113.02" x2="670.00" y2="113.02" stroke="#5a5a5a" stroke-width="1.0"/>
<line x1="497.90" y1="99.40" x2="500.50" y2="99.40" stroke="#505050" stroke-width="1.0"/>
<line x1="672.60" y1="99.40" x2="670.00" y2="99.40" stroke="#5a5a5a" stroke-width="1.0"/>
<line x1="497.90" y1="85.78" x2="500.50" y2="85.78" stroke="#505050" stroke-width="1.0"/>
<line x1="672.60" y1="85.78" x2="670.00" y2="85.78" stroke="#5a5a5a" stroke-width="1.0"/>
<line x1="497.90" y1="72.16" x2="500.50" y2="72.16" stroke="#505050" stroke-width="1.0"/>
<line x1="672.60" y1="72.16" x2="670.00" y2="72.16" stroke="#5a5a5a" stroke-width="1.0"/>
<line x1="497.90" y1="58.54" x2="500.50" y2="58.54" stroke="#505050" stroke-width="1.0"/>
<line x1="672.60" y1="58.54" x2="670.00" y2="58.54" stroke="#5a5a5a" stroke-width="1.0"/>
<line x1="497.90" y1="44.92" x2="500.50" y2="44.92" stroke="#505050" stroke-width="1.0"/>
<line x1="672.60" y1="44.92" x2="670.00" y2="44.92" stroke="#5a5a5a" stroke-width="1.0"/>
<line x1="497.90" y1="31.30" x2="500.50" y2="31.30" stroke="#505050" stroke-width="1.0"/>
<line x1="672.60" y1="31.30" x2="670.00" y2="31.30" stroke="#5a5a5a" stroke-width="1.0"/>
<text stroke-width="0.3" x="479.30" y="169.20" font-size="14.67" text-anchor="start" transform="rotate(-90 479.30 169.20)" textLength="140.6" lengthAdjust="spacingAndGlyphs">Signal Intensity (a.u.)</text>
<text stroke-width="0.3" x="494.90" y="175.45" font-size="14.67" text-anchor="end" >0</text>
<text stroke-width="0.3" x="494.90" y="148.21" font-size="14.67" text-anchor="end" >1</text>
<text stroke-width="0.3" x="494.90" y="120.97" font-size="14.67" text-anchor="end" >2</text>
<text stroke-width="0.3" x="494.90" y="93.73" font-size="14.67" text-anchor="end" >3</text>
<text stroke-width="0.3" x="494.90" y="66.49" font-size="14.67" text-anchor="end" >4</text>
<text stroke-width="0.3" x="494.90" y="39.25" font-size="14.67" text-anchor="end" >5</text>
<text stroke-width="0.3" x="522.26" y="184.10" font-size="14.67" text-anchor="middle" >220</text>
<text stroke-width="0.3" x="572.17" y="184.10" font-size="14.67" text-anchor="middle" >200</text>
<text stroke-width="0.3" x="622.09" y="184.10" font-size="14.67" text-anchor="middle" >180</text>
<text stroke-width="0.3" x="672.00" y="184.10" font-size="14.67" text-anchor="middle" >160</text>
<text stroke-width="0.3" x="501.00" y="200.90" font-size="14.67" text-anchor="start" textLength="169.0" lengthAdjust="spacingAndGlyphs"><tspan font-size="8.22" dy="-4.69">129</tspan><tspan dy="4.69">Xe chemical shift (ppm)</tspan></text>
<polyline points="497.30,168.83 497.80,168.08 498.30,168.38 498.80,168.16 499.30,167.73 499.81,169.41 500.31,167.06 500.81,168.06 501.31,168.67 501.81,167.97 502.31,166.71 502.81,166.68 503.31,169.17 503.81,166.80 504.32,167.71 504.82,168.21 505.32,167.79 505.82,166.03 506.32,165.91 506.82,167.60 507.32,166.97 507.82,167.45 508.32,167.79 508.83,167.85 509.33,166.44 509.83,166.11 510.33,168.59 510.83,167.11 511.33,166.59 511.83,165.82 512.33,168.21 512.83,166.51 513.33,166.71 513.84,168.29 514.34,167.99 514.84,168.23 515.34,166.51 515.84,165.00 516.34,166.77 516.84,167.42 517.34,167.07 517.84,168.54 518.35,168.04 518.85,166.71 519.35,168.23 519.85,167.56 520.35,167.24 520.85,168.76 521.35,166.12 521.85,168.67 522.35,168.73 522.86,165.76 523.36,167.52 523.86,167.55 524.36,166.63 524.86,167.16 525.36,166.93 525.86,167.76 526.36,167.17 526.86,165.68 527.37,168.83 527.87,168.55 528.37,166.91 528.87,168.53 529.37,169.61 529.87,166.23 530.37,167.31 530.87,167.21 531.37,168.23 531.88,167.41 532.38,166.38 532.88,168.89 533.38,167.39 533.88,168.39 534.38,169.87 534.88,166.99 535.38,167.31 535.88,168.56 536.39,167.60 536.89,168.19 537.39,167.70 537.89,170.36 538.39,168.30 538.89,168.03 539.39,167.82 539.89,168.07 540.39,166.16 540.90,167.44 541.40,168.41 541.90,166.56 542.40,167.74 542.90,167.61 543.40,167.21 543.90,170.07 544.40,168.38 544.90,168.02 545.40,166.95 545.91,167.78 546.41,167.42 546.91,167.62 547.41,167.91 547.91,170.08 548.41,168.97 548.91,169.32 549.41,169.01 549.91,170.38 550.42,167.07 550.92,166.48 551.42,167.90 551.92,167.95 552.42,167.74 552.92,167.11 553.42,168.35 553.92,169.34 554.42,167.91 554.93,167.49 555.43,168.84 555.93,167.41 556.43,167.37 556.93,168.00 557.43,165.53 557.93,169.49 558.43,167.60 558.93,168.19 559.44,168.00 559.94,168.09 560.44,166.43 560.94,169.39 561.44,168.25 561.94,167.99 562.44,170.70 562.94,166.50 563.44,168.41 563.95,167.61 564.45,166.28 564.95,169.55 565.45,166.23 565.95,167.84 566.45,167.62 566.95,167.88 567.45,166.81 567.95,169.00 568.46,167.95 568.96,166.49 569.46,166.55 569.96,167.96 570.46,166.60 570.96,168.12 571.46,168.02 571.96,167.15 572.46,165.87 572.97,166.47 573.47,168.05 573.97,167.21 574.47,169.47 574.97,167.29 575.47,168.07 575.97,168.35 576.47,167.79 576.97,168.00 577.47,168.67 577.98,167.57 578.48,168.03 578.98,167.36 579.48,169.61 579.98,167.87 580.48,168.50 580.98,164.88 581.48,167.24 581.98,166.63 582.49,167.74 582.99,167.28 583.49,166.71 583.99,167.44 584.49,168.48 584.99,168.72 585.49,167.20 585.99,168.71 586.49,167.12 587.00,168.29 587.50,166.89 588.00,168.70 588.50,169.91 589.00,167.43 589.50,167.67 590.00,163.93 590.40,164.00 590.80,166.44 591.20,164.54 591.60,165.78 592.10,164.96 592.60,167.69 593.10,166.96 593.60,168.85 594.10,167.20 594.61,170.13 595.11,166.66 595.61,168.02 596.11,165.80 596.61,167.32 597.11,168.86 597.61,167.60 598.11,166.47 598.62,168.17 599.12,168.61 599.62,168.12 600.12,168.65 600.62,166.35 601.12,169.44 601.62,168.38 602.12,165.70 602.63,169.48 603.13,167.26 603.63,168.19 604.13,165.82 604.63,167.11 605.13,165.97 605.63,168.50 606.13,167.48 606.64,166.83 607.14,167.35 607.64,168.77 608.14,166.96 608.64,168.24 609.14,166.58 609.64,166.12 610.14,167.24 610.65,167.43 611.15,167.87 611.65,168.60 612.15,167.31 612.65,167.36 613.15,168.43 613.65,168.11 614.15,167.65 614.66,167.93 615.16,165.62 615.66,167.18 616.16,166.18 616.66,167.37 617.16,168.56 617.66,166.10 618.16,168.58 618.67,167.17 619.17,167.50 619.67,167.26 620.17,168.38 620.67,167.07 621.17,165.73 621.67,168.01 622.17,167.56 622.68,168.30 623.18,168.27 623.68,166.55 624.18,167.90 624.68,167.82 625.18,167.63 625.68,167.79 626.18,168.00 626.69,167.17 627.19,167.56 627.69,168.63 628.19,166.69 628.69,167.63 629.19,166.74 629.69,166.69 630.19,167.30 630.70,167.87 631.20,169.14 631.70,167.51 632.20,168.59 632.70,168.21 633.20,167.77 633.70,164.76 634.20,167.82 634.71,167.75 635.21,166.71 635.71,167.83 636.21,169.10 636.71,166.61 637.21,167.21 637.71,168.56 638.21,165.99 638.72,166.72 639.22,167.98 639.72,168.60 640.22,168.86 640.72,168.42 641.22,169.89 641.72,168.07 642.22,166.47 642.73,167.52 643.23,168.29 643.73,168.05 644.23,165.86 644.73,168.07 645.23,166.95 645.73,167.51 646.23,169.09 646.74,167.54 647.24,167.07 647.74,167.59 648.24,167.09 648.74,169.64 649.24,168.49 649.74,168.57 650.24,167.05 650.75,167.09 651.25,167.94 651.75,165.63 652.25,168.67 652.75,166.49 653.25,167.80 653.75,168.02 654.25,166.95 654.76,168.04 655.26,168.36 655.76,169.51 656.26,168.07 656.76,169.43 657.26,168.14 657.76,167.52 658.26,168.52 658.77,167.21 659.27,167.84 659.77,168.29 660.27,168.79 660.77,167.96 661.27,166.31 661.77,168.93 662.27,167.86 662.78,167.42 663.28,166.93 663.78,168.25 664.28,168.02 664.78,168.35 665.28,167.58 665.78,169.16 666.28,167.45 666.79,168.09 667.29,167.89 667.79,168.71 668.29,167.05 668.79,167.42 669.29,167.49 669.79,167.07 670.29,167.08 670.80,166.56 671.30,168.41 671.80,169.12 672.30,167.70" fill="none" stroke="#111" stroke-width="0.9" stroke-linejoin="round" stroke-linecap="round"/>
<polyline points="588.40,168.60 589.40,166.30 590.20,164.30 590.80,163.70 591.30,164.80 591.80,167.00 592.20,168.90 593.00,168.20" fill="none" stroke="#111" stroke-width="1.3" stroke-linejoin="round" stroke-linecap="round"/>
<polyline points="497.30,167.59 497.90,167.74 498.50,167.80 499.10,167.83 499.70,167.64 500.30,167.26 500.90,167.99 501.50,168.06 502.11,167.69 502.71,167.78 503.31,167.47 503.91,168.10 504.51,167.89 505.11,167.42 505.71,168.02 506.31,168.19 506.91,167.55 507.51,168.20 508.11,167.68 508.71,167.38 509.31,167.92 509.91,167.54 510.51,167.93 511.12,167.78 511.72,167.31 512.32,167.73 512.92,168.05 513.52,167.68 514.12,167.74 514.72,168.06 515.32,167.65 515.92,167.69 516.52,167.78 517.12,168.02 517.72,167.40 518.32,167.29 518.92,167.96 519.52,167.75 520.12,167.50 520.73,168.09 521.33,168.08 521.93,167.74 522.53,168.19 523.13,168.04 523.73,167.95 524.33,167.49 524.93,167.21 525.53,167.88 526.13,167.94 526.73,167.55 527.33,167.68 527.93,167.77 528.53,167.45 529.13,167.90 529.74,167.76 530.34,167.59 530.94,167.31 531.54,167.75 532.14,167.52 532.74,167.92 533.34,167.37 533.94,167.59 534.54,167.40 535.14,167.61 535.74,167.78 536.34,167.31 536.94,167.25 537.54,167.68 538.14,167.40 538.75,167.71 539.35,167.37 539.95,167.30 540.55,167.74 541.15,168.12 541.75,168.07 542.35,167.72 542.95,167.60 543.55,167.27 544.15,167.48 544.75,167.51 545.35,168.14 545.95,167.32 546.55,168.15 547.15,167.68 547.76,167.63 548.36,167.46 548.96,168.16 549.56,167.39 550.16,167.77 550.76,167.71 551.36,167.40 551.96,167.42 552.56,168.19 553.16,167.99 553.76,167.93 554.36,168.10 554.96,167.30 555.56,167.90 556.16,167.95 556.77,167.43 557.37,167.66 557.97,168.17 558.57,167.53 559.17,167.96 559.77,167.37 560.37,167.87 560.97,167.47 561.57,167.71 562.17,167.57 562.77,168.07 563.37,167.94 563.97,167.70 564.57,167.89 565.17,167.63 565.77,168.00 566.38,167.46 566.98,167.74 567.58,167.79 568.18,167.59 568.78,167.25 569.38,167.37 569.98,167.84 570.58,167.41 571.18,167.96 571.78,167.70 572.38,168.15 572.98,168.05 573.58,167.93 574.18,167.57 574.78,167.24 575.39,167.76 575.99,167.95 576.59,168.12 577.19,167.40 577.79,167.36 578.39,168.18 578.99,167.94 579.59,167.68 580.19,167.94 580.79,167.35 581.39,167.74 581.99,167.87 582.59,167.80 583.19,167.36 583.79,167.34 584.40,167.82 585.00,168.08 585.60,167.34 586.20,167.21 586.80,167.28 587.40,167.99 588.00,167.59 588.60,167.70" fill="none" stroke="#111" stroke-width="2.3" stroke-linejoin="round" stroke-linecap="round"/>
<polyline points="593.00,167.66 593.60,168.19 594.20,167.81 594.80,167.46 595.40,167.90 596.00,167.20 596.60,167.48 597.21,167.90 597.81,167.37 598.41,167.23 599.01,167.72 599.61,167.53 600.21,168.17 600.81,167.30 601.41,168.00 602.01,167.59 602.61,168.01 603.21,167.65 603.81,167.87 604.41,167.53 605.02,167.42 605.62,167.65 606.22,168.00 606.82,167.55 607.42,167.43 608.02,167.62 608.62,167.30 609.22,167.52 609.82,167.77 610.42,167.75 611.02,167.80 611.62,167.49 612.22,167.22 612.83,167.23 613.43,167.54 614.03,167.40 614.63,167.77 615.23,167.47 615.83,167.96 616.43,167.80 617.03,167.86 617.63,167.94 618.23,167.72 618.83,167.63 619.43,167.51 620.03,167.26 620.63,167.99 621.24,167.70 621.84,167.30 622.44,168.13 623.04,167.78 623.64,167.82 624.24,167.64 624.84,167.33 625.44,168.20 626.04,167.37 626.64,167.57 627.24,168.20 627.84,167.32 628.44,167.70 629.05,167.68 629.65,167.45 630.25,168.12 630.85,167.61 631.45,167.21 632.05,167.67 632.65,167.20 633.25,167.91 633.85,168.07 634.45,168.11 635.05,167.25 635.65,167.88 636.25,167.50 636.86,167.67 637.46,167.50 638.06,167.51 638.66,167.33 639.26,167.83 639.86,167.29 640.46,168.16 641.06,167.24 641.66,168.16 642.26,167.39 642.86,167.28 643.46,167.94 644.06,167.73 644.67,167.97 645.27,167.71 645.87,167.83 646.47,167.28 647.07,167.87 647.67,167.71 648.27,168.16 648.87,167.21 649.47,167.27 650.07,167.88 650.67,168.13 651.27,167.62 651.87,167.91 652.47,167.76 653.08,167.59 653.68,167.67 654.28,167.80 654.88,167.23 655.48,167.51 656.08,167.94 656.68,167.46 657.28,167.67 657.88,167.46 658.48,167.56 659.08,167.85 659.68,167.94 660.28,168.16 660.89,167.68 661.49,167.40 662.09,167.54 662.69,167.26 663.29,167.44 663.89,167.78 664.49,167.81 665.09,167.44 665.69,167.38 666.29,167.30 666.89,167.38 667.49,167.70 668.09,167.46 668.70,168.08 669.30,167.76 669.90,167.54 670.50,167.63 671.10,167.24 671.70,167.93 672.30,167.70" fill="none" stroke="#111" stroke-width="2.3" stroke-linejoin="round" stroke-linecap="round"/>
<line x1="497.65" y1="226.00" x2="673.60" y2="226.00" stroke="#999" stroke-width="1.6"/>
<line x1="498.30" y1="363.00" x2="673.60" y2="363.00" stroke="#aaa" stroke-width="1.2"/>
<line x1="673.00" y1="225.20" x2="673.00" y2="363.60" stroke="#999" stroke-width="1.2"/>
<line x1="498.30" y1="225.20" x2="498.30" y2="363.60" stroke="#888" stroke-width="1.3"/>
<line x1="523.26" y1="363.00" x2="523.26" y2="360.80" stroke="#555" stroke-width="0.9"/>
<line x1="523.26" y1="226.00" x2="523.26" y2="228.50" stroke="#555" stroke-width="0.9"/>
<line x1="548.21" y1="363.00" x2="548.21" y2="360.80" stroke="#555" stroke-width="0.9"/>
<line x1="548.21" y1="226.00" x2="548.21" y2="228.50" stroke="#555" stroke-width="0.9"/>
<line x1="573.17" y1="363.00" x2="573.17" y2="360.80" stroke="#555" stroke-width="0.9"/>
<line x1="573.17" y1="226.00" x2="573.17" y2="228.50" stroke="#555" stroke-width="0.9"/>
<line x1="598.13" y1="363.00" x2="598.13" y2="360.80" stroke="#555" stroke-width="0.9"/>
<line x1="598.13" y1="226.00" x2="598.13" y2="228.50" stroke="#555" stroke-width="0.9"/>
<line x1="623.09" y1="363.00" x2="623.09" y2="360.80" stroke="#555" stroke-width="0.9"/>
<line x1="623.09" y1="226.00" x2="623.09" y2="228.50" stroke="#555" stroke-width="0.9"/>
<line x1="648.04" y1="363.00" x2="648.04" y2="360.80" stroke="#555" stroke-width="0.9"/>
<line x1="648.04" y1="226.00" x2="648.04" y2="228.50" stroke="#555" stroke-width="0.9"/>
<line x1="498.30" y1="349.12" x2="500.90" y2="349.12" stroke="#505050" stroke-width="1.0"/>
<line x1="673.00" y1="349.12" x2="670.40" y2="349.12" stroke="#5a5a5a" stroke-width="1.0"/>
<line x1="498.30" y1="335.44" x2="500.90" y2="335.44" stroke="#505050" stroke-width="1.0"/>
<line x1="673.00" y1="335.44" x2="670.40" y2="335.44" stroke="#5a5a5a" stroke-width="1.0"/>
<line x1="498.30" y1="321.76" x2="500.90" y2="321.76" stroke="#505050" stroke-width="1.0"/>
<line x1="673.00" y1="321.76" x2="670.40" y2="321.76" stroke="#5a5a5a" stroke-width="1.0"/>
<line x1="498.30" y1="308.08" x2="500.90" y2="308.08" stroke="#505050" stroke-width="1.0"/>
<line x1="673.00" y1="308.08" x2="670.40" y2="308.08" stroke="#5a5a5a" stroke-width="1.0"/>
<line x1="498.30" y1="294.40" x2="500.90" y2="294.40" stroke="#505050" stroke-width="1.0"/>
<line x1="673.00" y1="294.40" x2="670.40" y2="294.40" stroke="#5a5a5a" stroke-width="1.0"/>
<line x1="498.30" y1="280.72" x2="500.90" y2="280.72" stroke="#505050" stroke-width="1.0"/>
<line x1="673.00" y1="280.72" x2="670.40" y2="280.72" stroke="#5a5a5a" stroke-width="1.0"/>
<line x1="498.30" y1="267.04" x2="500.90" y2="267.04" stroke="#505050" stroke-width="1.0"/>
<line x1="673.00" y1="267.04" x2="670.40" y2="267.04" stroke="#5a5a5a" stroke-width="1.0"/>
<line x1="498.30" y1="253.36" x2="500.90" y2="253.36" stroke="#505050" stroke-width="1.0"/>
<line x1="673.00" y1="253.36" x2="670.40" y2="253.36" stroke="#5a5a5a" stroke-width="1.0"/>
<line x1="498.30" y1="239.68" x2="500.90" y2="239.68" stroke="#505050" stroke-width="1.0"/>
<line x1="673.00" y1="239.68" x2="670.40" y2="239.68" stroke="#5a5a5a" stroke-width="1.0"/>
<text stroke-width="0.3" x="479.90" y="363.40" font-size="14.67" text-anchor="start" transform="rotate(-90 479.90 363.40)" textLength="140.6" lengthAdjust="spacingAndGlyphs">Signal Intensity (a.u.)</text>
<text stroke-width="0.3" x="494.30" y="366.95" font-size="14.67" text-anchor="end" >0</text>
<text stroke-width="0.3" x="494.30" y="339.59" font-size="14.67" text-anchor="end" >1</text>
<text stroke-width="0.3" x="494.30" y="312.23" font-size="14.67" text-anchor="end" >2</text>
<text stroke-width="0.3" x="494.30" y="284.87" font-size="14.67" text-anchor="end" >3</text>
<text stroke-width="0.3" x="494.30" y="257.51" font-size="14.67" text-anchor="end" >4</text>
<text stroke-width="0.3" x="494.30" y="230.15" font-size="14.67" text-anchor="end" >5</text>
<text stroke-width="0.3" x="521.16" y="378.80" font-size="14.67" text-anchor="middle" >220</text>
<text stroke-width="0.3" x="571.07" y="378.80" font-size="14.67" text-anchor="middle" >200</text>
<text stroke-width="0.3" x="620.99" y="378.80" font-size="14.67" text-anchor="middle" >180</text>
<text stroke-width="0.3" x="670.90" y="378.80" font-size="14.67" text-anchor="middle" >160</text>
<text stroke-width="0.3" x="501.30" y="395.30" font-size="14.67" text-anchor="start" textLength="169.0" lengthAdjust="spacingAndGlyphs"><tspan font-size="8.22" dy="-4.69">129</tspan><tspan dy="4.69">Xe chemical shift (ppm)</tspan></text>
<polyline points="498.40,361.11 499.79,362.75 500.98,361.25 502.37,363.14 503.95,360.57 505.13,363.31 506.68,360.98 508.08,362.84 509.36,360.92 510.93,363.17 512.44,361.14 513.83,363.24 515.15,360.10 516.32,363.17 518.02,361.15 519.30,363.35 520.57,360.18 522.22,362.66 523.31,360.96 524.98,362.60 526.17,360.63 527.81,362.35 528.85,359.95 530.36,362.48 532.03,360.76 533.07,363.08 534.53,360.80 536.20,362.21 537.58,360.62 538.74,362.15 540.24,360.29 541.58,362.49 542.93,359.88 544.58,362.79 545.94,360.83 547.11,362.05 548.46,359.57 550.16,363.01 551.45,360.58 552.83,361.69 554.45,360.14 555.63,362.96 557.02,358.81 558.50,362.51 559.84,358.46 561.39,361.91 562.92,358.67 564.19,361.41 565.74,359.57 567.29,361.81 568.44,358.64 569.85,361.65 571.37,357.89 572.63,360.73 574.04,356.16 575.38,360.94 576.74,356.90 577.97,360.11 579.34,354.87 580.61,357.72 581.80,352.83 583.05,353.75 584.62,349.14 586.10,349.44 587.69,340.10 588.57,328.10 589.35,310.00 590.07,290.00 591.00,240.00 592.12,290.00 592.84,310.00 593.69,328.10 594.45,340.10 596.20,349.37 597.70,349.02 599.30,355.45 600.50,353.07 601.43,357.87 602.69,355.75 604.23,358.70 605.50,357.21 606.65,360.49 607.92,357.09 609.61,360.34 610.85,357.53 612.15,362.24 613.56,359.54 614.73,361.86 616.42,359.42 617.64,361.24 619.12,359.32 620.37,362.19 621.59,359.18 623.24,362.54 624.40,360.14 625.74,362.70 627.22,360.15 628.63,362.56 629.93,360.43 631.49,362.76 632.68,360.82 634.31,362.73 635.56,360.45 637.09,362.39 638.17,360.88 639.60,362.65 640.99,359.85 642.49,362.51 643.87,360.33 645.23,362.60 646.58,360.52 648.08,362.26 649.44,360.81 650.85,362.16 652.08,360.67 653.56,362.37 654.76,361.11 656.26,362.89 657.41,361.10 658.87,363.42 660.36,360.65 661.67,363.09 663.26,360.56 664.32,362.85 665.89,361.41 667.39,362.74 668.58,360.71 670.07,363.01 671.56,360.89 672.80,362.00" fill="none" stroke="#111" stroke-width="1.2" stroke-linejoin="round" stroke-linecap="round"/>
<polyline points="498.30,361.87 499.10,361.62 499.89,362.02 500.69,361.85 501.48,361.99 502.28,361.82 503.07,361.52 503.87,361.53 504.66,361.62 505.46,361.56 506.25,362.19 507.05,361.95 507.84,361.65 508.64,362.04 509.44,361.96 510.23,361.47 511.03,362.04 511.82,361.59 512.62,362.23 513.41,361.49 514.21,361.60 515.00,361.56 515.80,362.07 516.59,362.02 517.39,361.81 518.18,361.43 518.98,361.66 519.78,361.88 520.57,361.32 521.37,362.05 522.16,361.97 522.96,362.03 523.75,361.82 524.55,361.74 525.34,362.04 526.14,361.42 526.93,361.45 527.73,361.28 528.52,361.32 529.32,361.83 530.12,361.23 530.91,361.77 531.71,361.46 532.50,361.86 533.30,361.75 534.09,361.67 534.89,361.80 535.68,361.10 536.48,361.28 537.27,361.36 538.07,361.40 538.86,361.60 539.66,361.76 540.46,361.63 541.25,361.79 542.05,361.58 542.84,361.27 543.64,361.39 544.43,361.59 545.23,361.64 546.02,361.24 546.82,361.22 547.61,361.43 548.41,361.08 549.20,361.66 550.00,360.84 550.80,361.39 551.60,361.19 552.40,360.86 553.20,361.18 554.00,361.03 554.80,361.48 555.60,361.36 556.40,361.01 557.20,361.27 558.00,361.25 558.80,360.38 559.60,361.11 560.40,361.09 561.20,361.25 562.00,360.92 562.80,360.39 563.60,360.08 564.40,360.65 565.20,359.97 566.00,360.72 566.80,360.40 567.60,360.74 568.40,359.97 569.20,359.84 570.00,360.74 570.81,360.10 571.62,359.39 572.43,359.42 573.24,358.96 574.05,359.03 574.86,358.57 575.67,357.95 576.48,358.75 577.29,358.34 578.10,357.88 578.93,356.45 579.77,355.60 580.60,355.62 581.43,355.00 582.27,354.03 583.10,352.74 583.85,352.12 584.60,350.63 585.35,349.20 586.10,348.20 586.90,344.10 587.70,340.10 588.70,328.10 589.50,310.00 590.20,290.00 591.10,240.00 592.10,290.00 592.70,310.00 593.50,328.10 594.50,340.10 595.30,344.10 596.10,348.41 596.85,349.63 597.60,350.99 598.35,352.09 599.10,353.84 599.93,353.89 600.77,355.00 601.60,355.30 602.43,356.78 603.27,357.26 604.10,357.46 604.90,358.10 605.70,357.87 606.50,358.31 607.30,358.08 608.10,359.28 608.90,359.42 609.70,359.67 610.50,359.03 611.30,360.26 612.10,359.47 612.91,360.24 613.73,360.19 614.54,359.73 615.35,360.22 616.17,360.82 616.98,360.57 617.80,360.28 618.61,360.88 619.42,360.44 620.24,361.05 621.05,360.60 621.86,360.34 622.68,361.26 623.49,360.46 624.30,360.69 625.12,361.22 625.93,360.68 626.75,361.12 627.56,361.45 628.37,361.27 629.19,361.11 630.00,361.52 630.81,361.59 631.62,361.39 632.42,361.45 633.23,361.20 634.04,361.29 634.85,361.80 635.65,361.79 636.46,360.98 637.27,361.16 638.08,361.20 638.88,361.69 639.69,361.20 640.50,361.19 641.31,361.71 642.11,361.22 642.92,361.92 643.73,361.49 644.54,361.88 645.34,361.82 646.15,361.32 646.96,361.82 647.77,361.52 648.57,361.37 649.38,361.23 650.19,361.80 651.00,361.70 651.80,361.49 652.61,361.95 653.42,361.43 654.23,361.65 655.03,361.36 655.84,361.60 656.65,362.06 657.46,361.75 658.26,361.47 659.07,361.55 659.88,361.91 660.69,361.61 661.49,362.14 662.30,361.45 663.11,362.16 663.92,361.96 664.72,362.14 665.53,361.76 666.34,361.53 667.15,361.63 667.95,362.03 668.76,361.53 669.57,361.62 670.38,362.20 671.18,362.29 671.99,362.29 672.80,362.00" fill="none" stroke="#111" stroke-width="1.3" stroke-linejoin="round" stroke-linecap="round"/>
<polyline points="498.30,362.24 498.90,361.95 499.50,362.26 500.10,362.08 500.70,361.93 501.31,361.79 501.91,361.38 502.51,361.44 503.11,361.59 503.71,361.80 504.31,361.45 504.91,362.29 505.51,361.89 506.12,362.05 506.72,362.20 507.32,361.52 507.92,362.17 508.52,362.24 509.12,361.54 509.72,361.39 510.32,362.06 510.92,362.14 511.53,362.05 512.13,361.65 512.73,361.83 513.33,361.34 513.93,361.45 514.53,361.63 515.13,361.95 515.73,361.29 516.33,362.12 516.94,361.21 517.54,362.15 518.14,361.41 518.74,361.98 519.34,361.97 519.94,362.10 520.54,361.61 521.14,361.83 521.75,361.42 522.35,361.95 522.95,361.22 523.55,361.99 524.15,361.69 524.75,361.15 525.35,362.03 525.95,361.40 526.55,361.14 527.16,361.32 527.76,361.09 528.36,361.33 528.96,361.75 529.56,362.03 530.16,361.66 530.76,361.88 531.36,361.84 531.97,361.72 532.57,361.39 533.17,361.25 533.77,361.14 534.37,361.53 534.97,361.18 535.57,361.71 536.17,361.28 536.77,361.53 537.38,361.49 537.98,361.57 538.58,361.09 539.18,361.18 539.78,361.61 540.38,361.12 540.98,361.58 541.58,361.86 542.18,361.28 542.79,361.85 543.39,361.49 543.99,361.81 544.59,361.39 545.19,361.61 545.79,361.53 546.39,361.04 546.99,361.35 547.60,361.41 548.20,361.28 548.80,361.47 549.40,361.72 550.00,361.59 550.59,361.58 551.19,360.88 551.78,361.41 552.37,361.31 552.96,361.59 553.56,360.62 554.15,360.77 554.74,361.54 555.33,360.91 555.93,361.21 556.52,361.07 557.11,360.84 557.70,360.85 558.30,360.95 558.89,361.34 559.48,360.86 560.07,361.09 560.67,360.57 561.26,360.95 561.85,360.81 562.44,360.92 563.04,361.03 563.63,360.20 564.22,361.06 564.81,360.67 565.41,360.29 566.00,360.50" fill="none" stroke="#111" stroke-width="2.3" stroke-linejoin="round" stroke-linecap="round"/>
<polyline points="498.30,361.26 499.21,361.79 500.11,361.90 501.02,363.56 501.93,361.17 502.84,359.70 503.74,361.89 504.65,362.03 505.56,360.77 506.46,362.41 507.37,361.39 508.28,360.77 509.18,361.47 510.09,360.24 511.00,361.13 511.91,363.25 512.81,362.73 513.72,362.12 514.63,361.62 515.53,361.77 516.44,360.29 517.35,361.64 518.25,360.73 519.16,360.83 520.07,363.03 520.98,360.69 521.88,361.48 522.79,361.50 523.70,362.40 524.60,361.14 525.51,361.88 526.42,361.76 527.32,361.17 528.23,360.76 529.14,360.29 530.05,362.41 530.95,360.45 531.86,362.48 532.77,362.98 533.67,360.72 534.58,360.31 535.49,360.26 536.39,360.73 537.30,362.58 538.21,360.45 539.12,360.15 540.02,359.55 540.93,361.30 541.84,361.64 542.74,362.70 543.65,361.44 544.56,361.13 545.46,361.11 546.37,364.06 547.28,362.73 548.19,362.03 549.09,360.78 550.00,360.92 550.91,360.97 551.82,360.91 552.73,361.45 553.64,360.21 554.55,362.75 555.45,359.82 556.36,361.41 557.27,361.47 558.18,361.62 559.09,361.98 560.00,360.87 560.91,360.72 561.82,361.92 562.73,361.72 563.64,360.37 564.55,361.18 565.45,359.05 566.36,360.62 567.27,358.08 568.18,361.36 569.09,359.44 570.00,360.00" fill="none" stroke="#111" stroke-width="0.8" stroke-linejoin="round" stroke-linecap="round"/>
<polyline points="615.00,360.76 615.60,360.18 616.20,360.15 616.80,360.84 617.40,360.36 618.00,360.97 618.60,360.94 619.20,360.52 619.80,360.52 620.40,360.33 621.00,361.13 621.60,360.74 622.20,360.67 622.80,360.54 623.40,360.63 624.00,361.31 624.60,360.61 625.20,361.07 625.80,361.17 626.40,361.10 627.00,361.12 627.60,361.05 628.20,360.88 628.80,361.55 629.40,361.66 630.00,361.36 630.60,361.06 631.21,361.73 631.81,361.03 632.41,361.00 633.01,361.47 633.62,361.68 634.22,361.43 634.82,360.98 635.43,361.86 636.03,361.04 636.63,361.24 637.23,361.89 637.84,361.70 638.44,361.67 639.04,361.00 639.65,361.79 640.25,361.34 640.85,360.96 641.45,361.75 642.06,361.90 642.66,361.03 643.26,361.44 643.86,361.90 644.47,361.34 645.07,361.31 645.67,361.80 646.28,361.47 646.88,362.03 647.48,361.90 648.08,361.91 648.69,361.77 649.29,361.27 649.89,361.77 650.50,361.67 651.10,361.58 651.70,361.67 652.30,361.42 652.91,361.32 653.51,362.04 654.11,361.50 654.72,361.25 655.32,362.13 655.92,361.67 656.52,361.85 657.13,361.52 657.73,361.34 658.33,361.53 658.94,362.04 659.54,361.49 660.14,362.13 660.74,361.54 661.35,362.14 661.95,361.43 662.55,361.70 663.15,361.39 663.76,361.42 664.36,361.80 664.96,361.66 665.57,361.84 666.17,361.52 666.77,361.63 667.37,361.65 667.98,362.23 668.58,361.42 669.18,361.77 669.79,362.21 670.39,361.94 670.99,361.63 671.59,362.38 672.20,361.50 672.80,361.90" fill="none" stroke="#111" stroke-width="2.3" stroke-linejoin="round" stroke-linecap="round"/>
<polyline points="612.00,360.86 612.90,360.08 613.80,360.16 614.70,358.24 615.60,360.88 616.50,360.03 617.40,361.06 618.30,360.44 619.20,360.00 620.10,361.91 621.00,360.66 621.90,361.60 622.80,361.26 623.70,361.51 624.60,361.81 625.50,361.45 626.40,359.98 627.30,360.72 628.20,362.36 629.10,360.93 630.00,360.77 630.89,361.17 631.78,362.10 632.67,360.34 633.57,361.12 634.46,360.74 635.35,360.53 636.24,361.96 637.13,360.68 638.02,361.28 638.92,361.62 639.81,361.73 640.70,361.75 641.59,362.03 642.48,360.58 643.38,358.91 644.27,362.19 645.16,362.98 646.05,360.97 646.94,361.39 647.83,362.24 648.73,360.59 649.62,361.35 650.51,360.99 651.40,361.97 652.29,361.50 653.18,363.09 654.07,360.57 654.97,360.79 655.86,360.11 656.75,361.72 657.64,361.40 658.53,361.30 659.42,362.13 660.32,360.60 661.21,360.16 662.10,363.66 662.99,361.60 663.88,360.65 664.77,362.65 665.67,361.76 666.56,360.71 667.45,361.98 668.34,362.71 669.23,362.41 670.12,361.61 671.02,363.37 671.91,360.87 672.80,361.70" fill="none" stroke="#111" stroke-width="0.8" stroke-linejoin="round" stroke-linecap="round"/>
<text stroke-width="0.3" x="101.50" y="12.40" font-size="15.6" text-anchor="start" textLength="90.6" lengthAdjust="spacingAndGlyphs">Localized <tspan font-size="9.3" dy="-5.7">1</tspan><tspan dy="5.7">H</tspan></text>
<text stroke-width="0.3" x="299.70" y="12.40" font-size="15.6" text-anchor="start" textLength="133.5" lengthAdjust="spacingAndGlyphs">Non-localized<tspan font-size="9.3" dy="-5.7">129</tspan><tspan dy="5.7">Xe</tspan></text>
<text stroke-width="0.3" x="530.70" y="12.40" font-size="15.6" text-anchor="start" textLength="108.2" lengthAdjust="spacingAndGlyphs">Localized<tspan font-size="9.3" dx="6.3" dy="-5.7">129</tspan><tspan dy="5.7">Xe</tspan></text>
<text stroke-width="0.3" x="11.90" y="157.50" font-size="15.8" text-anchor="start" transform="rotate(-90 11.90 157.50)" textLength="116.3" lengthAdjust="spacingAndGlyphs">Pre-NE injection</text>
<text stroke-width="0.3" x="11.90" y="356.50" font-size="15.8" text-anchor="start" transform="rotate(-90 11.90 356.50)" textLength="123.3" lengthAdjust="spacingAndGlyphs">Post-NE injection</text>
</svg>
</body></html>
